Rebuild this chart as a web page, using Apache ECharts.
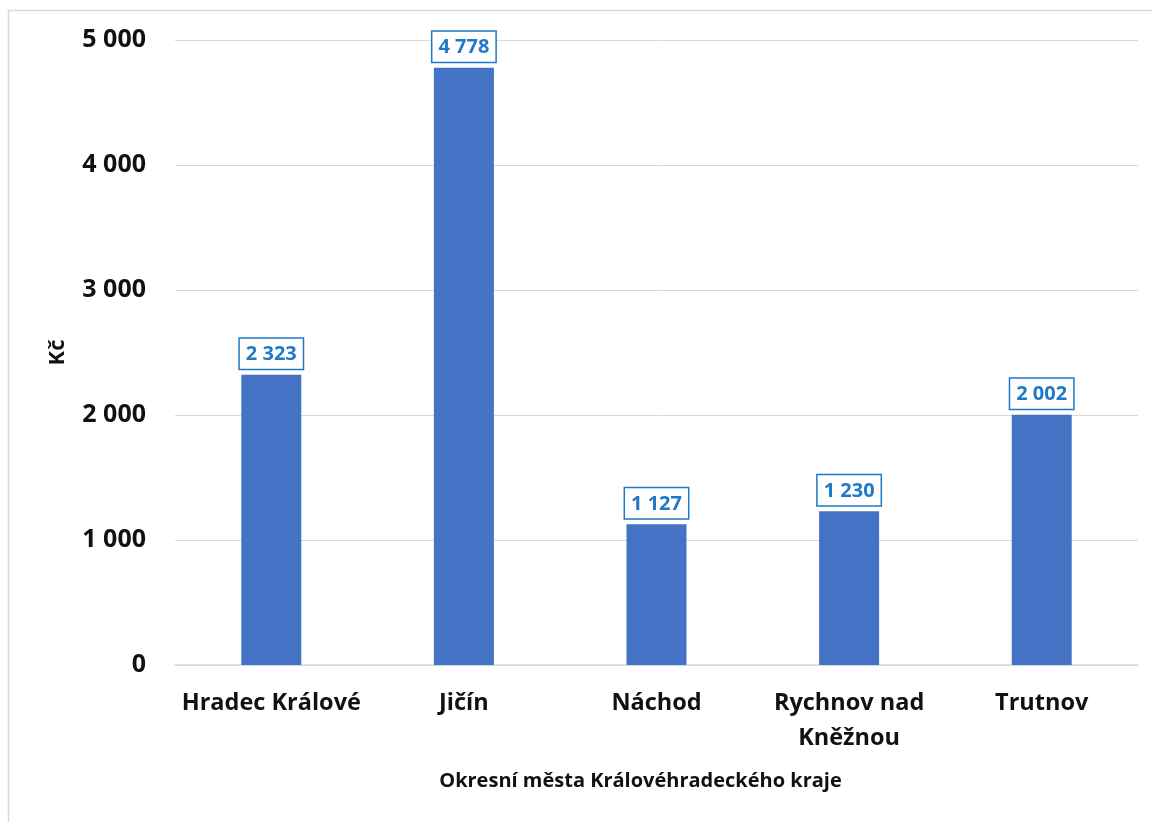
<!DOCTYPE html>
<html><head><meta charset="utf-8">
<script src="https://cdn.jsdelivr.net/npm/echarts@6/dist/echarts.min.js"></script>
<style>html,body{margin:0;padding:0;background:#fff}#c{width:1152px;height:822px}</style>
</head><body><div id="c"></div>
<script>
const categories = ['Hradec Králové', 'Jičín', 'Náchod', 'Rychnov nad\nKněžnou', 'Trutnov'];
const values = [2323, 4778, 1127, 1230, 2002];
const yTicks = [0, 1000, 2000, 3000, 4000, 5000];
const xTitle = 'Okresní města Královéhradeckého kraje';
const yTitle = 'Kč';

function fmt(v){ return String(v).replace(/\B(?=(\d{3})+(?!\d))/g, ' '); }
const font = '"Open Sans", "Noto Sans", sans-serif';
const chart = echarts.init(document.getElementById('c'), null, {renderer:'canvas'});
chart.setOption({
  animation:false,
  backgroundColor:'#fff',
  textStyle:{fontFamily:font},
  graphic:[{type:'rect', shape:{x:8.5,y:10.5,width:1200,height:900}, style:{fill:'none', stroke:'#d9d9d9', lineWidth:1.5}, silent:true}],
  grid:{left:175, right:14, top:40, bottom:157, containLabel:false},
  xAxis:{type:'category', data:categories,
    axisLine:{show:true, lineStyle:{color:'#d9d9d9', width:1.5}},
    axisTick:{show:false},
    axisLabel:{color:'#111', fontSize:23.5, fontWeight:'bold', fontFamily:font, margin:21, lineHeight:35, interval:0},
    name:xTitle, nameLocation:'middle', nameGap:106,
    nameTextStyle:{color:'#111', fontSize:20, fontWeight:'bold', fontFamily:font, padding:[0,32,0,0]}},
  yAxis:{type:'value', min:yTicks[0], max:yTicks[yTicks.length-1], interval:1000,
    axisLine:{show:false}, axisTick:{show:false},
    splitLine:{lineStyle:{color:'#d9d9d9', width:1}},
    axisLabel:{color:'#111', fontSize:25, fontWeight:'bold', fontFamily:font, margin:29, formatter:v=>fmt(v)},
    name:yTitle, nameLocation:'middle', nameGap:106, nameRotate:90,
    nameTextStyle:{color:'#111', fontSize:22, fontWeight:'bold', fontFamily:font}},
  series:[{type:'bar', data:values, barWidth:60,
    itemStyle:{color:'#4472c4'},
    label:{show:true, position:'top', distance:6, formatter:p=>fmt(p.value),
      color:'#1f78c8', fontSize:20, fontWeight:'bold', fontFamily:font,
      backgroundColor:'#fff', borderColor:'#1f78c8', borderWidth:1.5,
      padding:[6,6,4,6]}}]
});
</script></body></html>
